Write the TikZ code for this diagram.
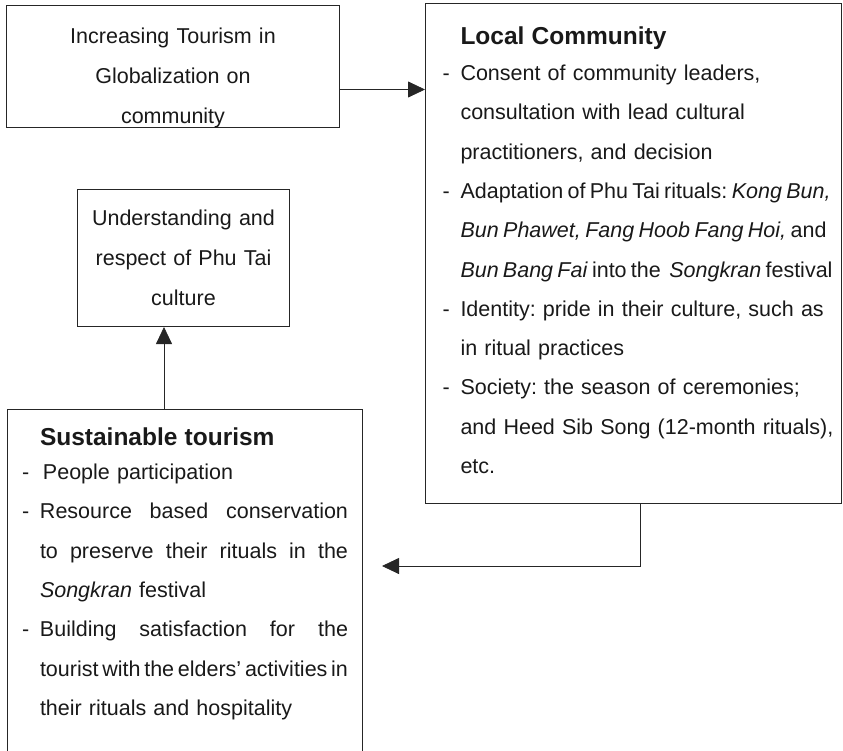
\documentclass[tikz,border=0pt]{standalone}
\usepackage{fontspec}
\setmainfont{Liberation Sans}
\usetikzlibrary{arrows.meta, positioning}
\frenchspacing
\newcommand{\bodyfont}{\fontsize{21.5}{39.3}\selectfont}
\newcommand{\headfont}{\fontsize{24.5}{39.3}\selectfont\bfseries}
\newcommand{\dashline}[1]{\mbox{\makebox[18pt][l]{-}#1}}
\newcommand{\moreline}[1]{\mbox{\hspace*{18pt}#1}}
% justified line of a given width
\newcommand{\fitline}[2]{{\spaceskip=0.278em plus 1em minus 0.15em\makebox[#1][s]{#2}}}
\tikzset{
  box/.style={rectangle,draw=black!85,line width=1pt,anchor=north west,inner xsep=0pt,inner ysep=0pt,align=center,text=black!90,font=\bodyfont},
  listbox/.style={box,align=left},
  line/.style={draw=black!85,line width=0.8pt,-{Triangle[length=17pt,width=16pt]}}
}

\begin{document}
\begin{tikzpicture}[x=1pt,y=-1pt]
\useasboundingbox (0,0) rectangle (843,750);
\node[box, text width=333pt, text height=38pt, text depth=84pt, font=\fontsize{21.5}{40}\selectfont] (tour) at (6,5) {Increasing Tourism in\\ Globalization on\\ community};
\node[listbox, text width=382pt, inner xsep=17pt, text height=41pt, text depth=459pt] (comm) at (425,3) {%
  \moreline{\headfont Local Community}\\[-3.3pt]
  \dashline{Consent of community leaders,}\\
  \moreline{consultation with lead cultural}\\
  \moreline{practitioners, and decision}\\
  \dashline{\fitline{370pt}{Adaptation of Phu Tai rituals: \textit{Kong Bun,}}}\\
  \moreline{\fitline{366pt}{\textit{Bun Phawet, Fang Hoob Fang Hoi,} and}}\\
  \moreline{\fitline{372pt}{\textit{Bun Bang Fai} into the\ \ \textit{Songkran} festival}}\\
  \dashline{Identity: pride in their culture, such as}\\
  \moreline{in ritual practices}\\
  \dashline{Society: the season of ceremonies;}\\
  \moreline{and Heed Sib Song (12-month rituals),}\\
  \moreline{etc.}};
\node[box, text width=212pt, text height=36pt, text depth=101pt, font=\fontsize{21.5}{40}\selectfont] (resp) at (77,189) {Understanding and\\ respect of Phu Tai\\ culture};
\node[listbox, text width=326pt, inner xsep=14.5pt, text height=36pt, text depth=320pt] (sust) at (7,409) {%
  \moreline{\headfont Sustainable tourism}\\[-5.3pt]
  \dashline{\hspace{3pt}People participation}\\
  \dashline{\fitline{308pt}{Resource based conservation}}\\
  \moreline{\fitline{308pt}{to preserve their rituals in the}}\\
  \moreline{\textit{Songkran} festival}\\
  \dashline{\fitline{308pt}{Building satisfaction for the}}\\
  \moreline{\fitline{308pt}{tourist with the elders’ activities in}}\\
  \moreline{their rituals and hospitality}};
\coordinate (back) at (382,566);
\draw[line] ([yshift=-23pt]tour.east) -- ([yshift=-23pt]tour.east -| comm.west);
\draw[line] ([xshift=7pt]comm.south) |- (back);
\draw[line] ([xshift=-21pt]sust.north) -- ([xshift=-21pt]sust.north |- resp.south);
\end{tikzpicture}
\end{document}
